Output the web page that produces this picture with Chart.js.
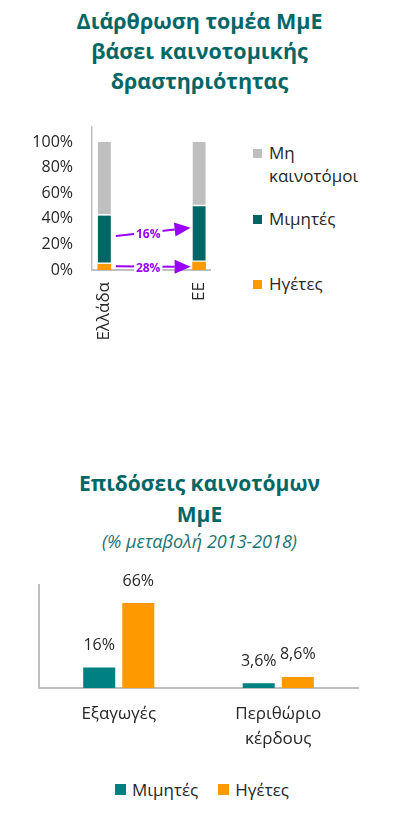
<!DOCTYPE html>
<html><head><meta charset="utf-8">
<script src="https://cdn.jsdelivr.net/npm/chart.js@4/dist/chart.umd.min.js"></script>
<style>
html,body{margin:0;padding:0;background:#fff;}
body{width:393px;height:835px;position:relative;overflow:hidden;font-family:"Open Sans",sans-serif;}
.title{position:absolute;left:3px;width:393px;text-align:center;color:#006666;font-weight:700;font-size:21px;}
#t1{top:6px;line-height:30px;font-size:21.5px;}
#t2{top:468px;line-height:31px;}
#sub{position:absolute;left:3px;width:393px;text-align:center;color:#1a7373;font-style:italic;font-size:18px;line-height:20px;top:531px;}
.lg{position:absolute;left:253px;width:135px;font-size:17px;line-height:23px;color:#262626;}
.lg i{position:absolute;left:0;top:8px;width:9px;height:9px;}
.lg span{display:block;margin-left:16px;width:105px;}
#legend2{position:absolute;left:0;width:404px;top:778px;height:22px;display:flex;justify-content:center;align-items:center;font-size:17px;color:#262626;}
#legend2 .it{display:flex;align-items:center;margin:0 10px;}
#legend2 i{display:inline-block;width:11px;height:11px;margin-right:6px;}
canvas{position:absolute;left:0;}
#c1{top:110px;}
#c2{top:560px;}
</style></head>
<body>
<div class="title" id="t1">Διάρθρωση τομέα ΜμΕ<br>βάσει καινοτομικής<br>δραστηριότητας</div>
<canvas id="c1" width="240" height="250"></canvas>
<div id="legend1"></div>
<div class="title" id="t2">Επιδόσεις καινοτόμων<br>ΜμΕ</div>
<div id="sub">(% μεταβολή 2013-2018)</div>
<canvas id="c2" width="393" height="215"></canvas>
<div id="legend2"></div>
<script>
// ---- Chart 1 data ----
const categoriesTop = ['Ελλάδα', 'ΕΕ'];
const leadersTop = [4.5, 6.2];
const imitatorsTop = [38, 43.5];
const nonInnovatorsTop = [57.5, 50.3];
const yTicksTop = [0, 20, 40, 60, 80, 100];
const seriesNamesTop = ['Ηγέτες', 'Μιμητές', 'Μη καινοτόμοι'];
const arrowLabels = ['16%', '28%'];
const arrowFrom = [26.5, 3];
const arrowTo = [33, 2.5];

// ---- Chart 2 data ----
const categoriesBottom = [['Εξαγωγές'], ['Περιθώριο', 'κέρδους']];
const seriesNamesBottom = ['Μιμητές', 'Ηγέτες'];
const imitatorsBottom = [16, 3.6];
const leadersBottom = [66, 8.6];

const FONT = '"Open Sans", sans-serif';
Chart.defaults.font.family = FONT;
const TEXT = '#262626';
const AXIS = '#bfbfbf';

const colorsTop = ['#ff9900', '#006666', '#bfbfbf'];
const colorsBottom = ['#008080', '#ff9900'];

// HTML legend for chart 1 (reversed order)
const legendTops = [141, 207, 272];
const lg = document.getElementById('legend1');
[2, 1, 0].forEach((si, k) => {
  const d = document.createElement('div');
  d.className = 'lg';
  d.style.top = legendTops[k] + 'px';
  d.innerHTML = '<i style="background:' + colorsTop[si] + '"></i><span>' + seriesNamesTop[si] + '</span>';
  lg.appendChild(d);
});

// HTML legend for chart 2
const lg2 = document.getElementById('legend2');
seriesNamesBottom.forEach((n, i) => {
  const d = document.createElement('div');
  d.className = 'it';
  d.innerHTML = '<i style="background:' + colorsBottom[i] + '"></i><span>' + n + '</span>';
  lg2.appendChild(d);
});

const toXY = arr => arr.map((v, i) => ({x: i, y: v}));
const sepBorder = {top: 0, left: 0, right: 0, bottom: 2};

const arrowPlugin = {
  id: 'arrows',
  afterDatasetsDraw(chart) {
    const ctx = chart.ctx, ys = chart.scales.y;
    const m = chart.getDatasetMeta(0);
    const g = m.data[0], e = m.data[1];
    const x0 = g.x + g.width / 2 + 5;
    const x1 = e.x - e.width / 2 - 2;
    arrowLabels.forEach((lab, i) => {
      const y0 = ys.getPixelForValue(arrowFrom[i]);
      const y1 = ys.getPixelForValue(arrowTo[i]);
      const headLen = 16, headHalf = 7;
      const ang = Math.atan2(y1 - y0, x1 - x0);
      const bx = x1 - headLen * Math.cos(ang), by = y1 - headLen * Math.sin(ang);
      ctx.save();
      ctx.strokeStyle = ctx.fillStyle = '#9900ff';
      ctx.lineWidth = 2;
      ctx.beginPath(); ctx.moveTo(x0, y0); ctx.lineTo(bx, by); ctx.stroke();
      ctx.beginPath();
      ctx.moveTo(x1, y1);
      ctx.lineTo(bx - headHalf * Math.sin(ang), by + headHalf * Math.cos(ang));
      ctx.lineTo(bx + headHalf * Math.sin(ang), by - headHalf * Math.cos(ang));
      ctx.closePath(); ctx.fill();
      ctx.font = 'bold 12px ' + FONT;
      const lx = x0 + (bx - x0) * 0.55, ly = y0 + (by - y0) * 0.55 + 1;
      const w = ctx.measureText(lab).width;
      ctx.fillStyle = '#fff';
      ctx.fillRect(lx - w / 2 - 2, ly - 7, w + 4, 14);
      ctx.fillStyle = '#9900ff';
      ctx.textAlign = 'center'; ctx.textBaseline = 'middle';
      ctx.fillText(lab, lx, ly + 1);
      ctx.restore();
    });
  }
};

new Chart(document.getElementById('c1'), {
  type: 'bar',
  data: {
    datasets: [
      {label: seriesNamesTop[0], data: toXY(leadersTop), backgroundColor: colorsTop[0], borderWidth: 0},
      {label: seriesNamesTop[1], data: toXY(imitatorsTop), backgroundColor: colorsTop[1], borderColor: '#fff', borderWidth: sepBorder, borderSkipped: false},
      {label: seriesNamesTop[2], data: toXY(nonInnovatorsTop), backgroundColor: colorsTop[2], borderColor: '#fff', borderWidth: sepBorder, borderSkipped: false}
    ]
  },
  options: {
    responsive: false, animation: false, barThickness: 13,
    layout: {padding: {top: 17, right: 30, left: 0, bottom: 0}},
    plugins: {legend: {display: false}, tooltip: {enabled: false}},
    scales: {
      x: {
        type: 'linear', stacked: true, min: -0.13, max: 1.115, offset: false,
        grid: {display: false, drawTicks: false, offset: false},
        border: {color: AXIS, width: 2},
        afterBuildTicks: s => { s.ticks = categoriesTop.map((_, i) => ({value: i})); },
        afterFit: s => { s.height = 90; s.paddingLeft = 0; s.paddingRight = 0; },
        ticks: {autoSkip: false, minRotation: 90, maxRotation: 90, padding: 12, color: TEXT, font: {size: 17},
          callback: v => categoriesTop[v]}
      },
      y: {
        stacked: true, min: 0, max: 111.7,
        grid: {display: false, drawTicks: false},
        border: {color: AXIS, width: 1.5},
        afterBuildTicks: s => { s.ticks = yTicksTop.map(v => ({value: v})); },
        afterFit: s => { s.width = 92; s.paddingTop = 0; s.paddingBottom = 0; },
        ticks: {padding: 19, color: TEXT, font: {size: 16}, callback: v => v + '%'}
      }
    }
  },
  plugins: [arrowPlugin]
});

const fmt = v => String(v).replace('.', ',') + '%';
const valueLabels = {
  id: 'valueLabels',
  afterDatasetsDraw(chart) {
    const ctx = chart.ctx;
    ctx.save();
    ctx.font = '16px ' + FONT;
    ctx.fillStyle = TEXT; ctx.textAlign = 'center'; ctx.textBaseline = 'middle';
    chart.data.datasets.forEach((ds, di) => {
      chart.getDatasetMeta(di).data.forEach((bar, i) => {
        ctx.fillText(fmt(ds.data[i]), bar.x, bar.y - 22);
      });
    });
    ctx.restore();
  }
};

new Chart(document.getElementById('c2'), {
  type: 'bar',
  data: {
    labels: categoriesBottom,
    datasets: [
      {label: seriesNamesBottom[0], data: imitatorsBottom, backgroundColor: colorsBottom[0]},
      {label: seriesNamesBottom[1], data: leadersBottom, backgroundColor: colorsBottom[1]}
    ]
  },
  options: {
    responsive: false, animation: false,
    categoryPercentage: 0.49, barPercentage: 0.82,
    layout: {padding: {top: 25, right: 35, left: 0, bottom: 0}},
    plugins: {legend: {display: false}, tooltip: {enabled: false}},
    scales: {
      x: {
        grid: {display: false, drawTicks: false},
        border: {color: AXIS, width: 2},
        afterFit: s => { s.height = 87; },
        ticks: {padding: 14, color: TEXT, font: {size: 17, lineHeight: 1.45}, maxRotation: 0}
      },
      y: {
        min: 0, max: 80,
        grid: {display: false, drawTicks: false},
        border: {color: AXIS, width: 2},
        ticks: {display: false},
        afterFit: s => { s.width = 39; }
      }
    }
  },
  plugins: [valueLabels]
});
</script>
</body></html>
